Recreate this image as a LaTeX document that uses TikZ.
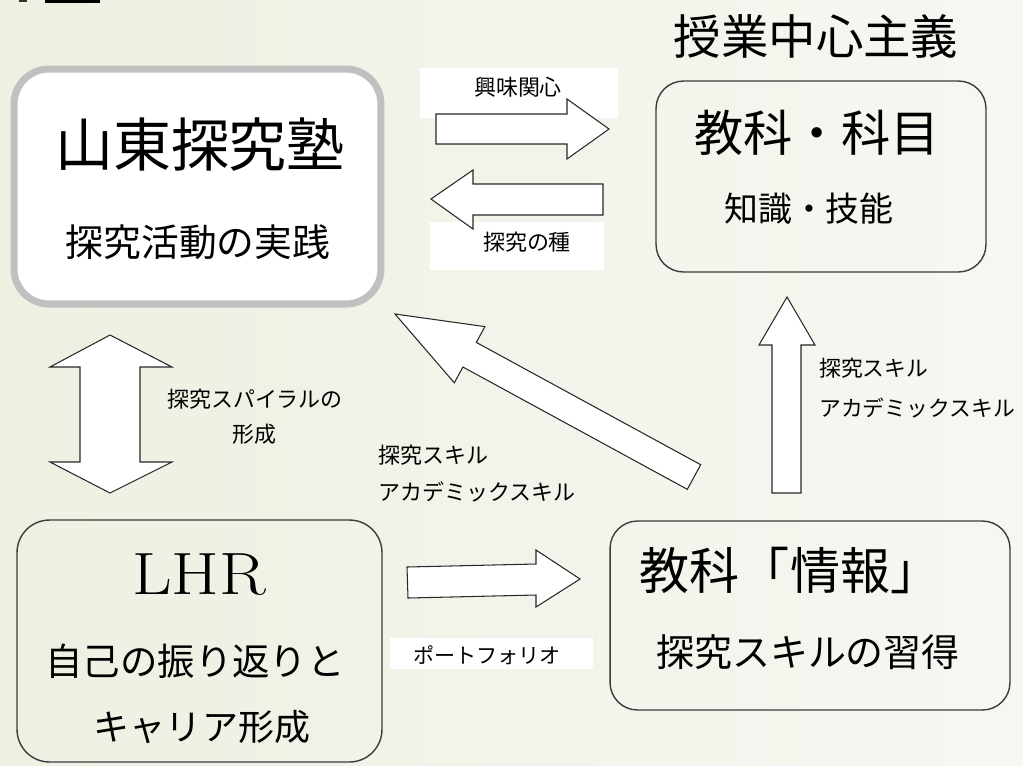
\documentclass[tikz,border=0pt]{standalone}
\usepackage{fontspec}
\newfontfamily\jpfont{Noto Sans CJK JP}
\definecolor{bgL}{RGB}{236,241,226}
\definecolor{bgM}{RGB}{250,250,247}
\definecolor{bgR}{RGB}{246,247,242}
\definecolor{boxgray}{RGB}{192,192,192}
\definecolor{boxline}{RGB}{60,60,60}
\definecolor{arrline}{RGB}{40,40,40}
\begin{document}
\begin{tikzpicture}[x=0.02cm,y=-0.02cm,
  box/.style={draw=boxline, line width=0.8pt, rounded corners=0.55cm, inner sep=0pt},
  blockarrow/.style={draw=arrline, fill=white, line width=0.6pt, line join=miter},
  labelbg/.style={fill=white, draw=none},
  txt/.style={inner sep=0pt, text=black}]
\useasboundingbox (0,0) rectangle (1023,765);
\shade[left color=bgL, middle color=bgM, right color=bgR] (0,0) rectangle (1023,765);
% cropped fragments at top left
\fill[black] (45,0) rectangle (100,3);
\fill[black!80] (19,0) rectangle (27,2);

% boxes
\node[box, draw=boxgray, line width=4pt, fill=white, rounded corners=0.7cm,
  minimum width=7.34cm, minimum height=4.7cm] (juku) at (197.5,186.5) {};
\node[box, minimum width=6.6cm, minimum height=3.82cm] (kyoka) at (821,176.5) {};
\node[box, rounded corners=0.65cm, minimum width=7.3cm, minimum height=4.84cm] (lhr) at (199.5,641) {};
\node[box, minimum width=8cm, minimum height=3.78cm] (joho) at (810,615.5) {};

% box texts
\node[txt, font=\jpfont\fontsize{27pt}{30pt}\selectfont] (head) at (816,36) {授業中心主義};
\node[txt, font=\jpfont\fontsize{33pt}{36pt}\selectfont] (jukuT) at (200,145) {山東探究塾};
\node[txt, font=\jpfont\fontsize{21.5pt}{24pt}\selectfont] (jukuS) at (198,242) {探究活動の実践};
\node[txt, font=\jpfont\fontsize{28pt}{30pt}\selectfont] (kyokaT) at (817,133) {教科・科目};
\node[txt, font=\jpfont\fontsize{19.3pt}{22pt}\selectfont] (kyokaS) at (809,209) {知識・技能};
\node[txt] (lhrT) at (199,575) {\scalebox{1.15}[1]{\fontsize{34pt}{36pt}\selectfont LHR}};
\node[txt, font=\jpfont\fontsize{21.3pt}{24pt}\selectfont] (lhrS1) at (195,661) {自己の振り返りと};
\node[txt, font=\jpfont\fontsize{20.5pt}{24pt}\selectfont] (lhrS2) at (202,727) {キャリア形成};
\node[txt, font=\jpfont\fontsize{28.5pt}{30pt}\selectfont] (johoT) at (790,570) {教科「情報」};
\node[txt, font=\jpfont\fontsize{21.6pt}{24pt}\selectfont] (johoS) at (808,652) {探究スキルの習得};

% label backgrounds
\fill[labelbg] (420,68) rectangle (618,118);
\fill[labelbg] (430,222) rectangle (604,270);
\fill[labelbg] (390,638) rectangle (593,669);

% block arrows
\draw[blockarrow] (436,114) -- (567,114) -- (567,99) -- (609,129) -- (567,159) -- (567,144) -- (436,144) -- cycle;
\draw[blockarrow] (603,184) -- (473,184) -- (473,170) -- (431,199) -- (473,229) -- (473,215) -- (603,215) -- cycle;
\draw[blockarrow] (110,335) -- (172,367) -- (140,367) -- (140,462) -- (172,462) -- (110,493) -- (50,462) -- (80,462) -- (80,367) -- (50,367) -- cycle;
\draw[blockarrow] (787,297) -- (815,345) -- (801,345) -- (801,493) -- (772,493) -- (772,345) -- (759,345) -- cycle;
\draw[blockarrow] (395,314) -- (484.9,326.6) -- (476.3,342.4) -- (700.7,464.7) -- (687.3,489.3) -- (462.9,367.0) -- (454.3,382.8) -- cycle;
\draw[blockarrow] (407,567) -- (536,564) -- (536,550) -- (580,579) -- (536,607) -- (536,595) -- (408,598) -- cycle;

% arrow labels
\node[txt, font=\jpfont\fontsize{12.5pt}{14pt}\selectfont] (l1) at (518,87) {興味関心};
\node[txt, font=\jpfont\fontsize{12.5pt}{14pt}\selectfont] (l2) at (527,242) {探究の種};
\node[txt, font=\jpfont\fontsize{12.5pt}{14pt}\selectfont] (l3) at (255,399) {探究スパイラルの};
\node[txt, font=\jpfont\fontsize{12.5pt}{14pt}\selectfont] (l4) at (254,434) {形成};
\node[txt, anchor=west, font=\jpfont\fontsize{12.5pt}{14pt}\selectfont] (l5) at (378,455) {探究スキル};
\node[txt, anchor=west, font=\jpfont\fontsize{12.5pt}{14pt}\selectfont] (l6) at (378,492) {アカデミックスキル};
\node[txt, anchor=west, font=\jpfont\fontsize{12.4pt}{14pt}\selectfont] (l7) at (819,368) {探究スキル};
\node[txt, anchor=west, font=\jpfont\fontsize{12.4pt}{14pt}\selectfont] (l8) at (819,408) {アカデミックスキル};
\node[txt, font=\jpfont\fontsize{12pt}{14pt}\selectfont] (l9) at (487,655) {ポートフォリオ};
\end{tikzpicture}
\end{document}
